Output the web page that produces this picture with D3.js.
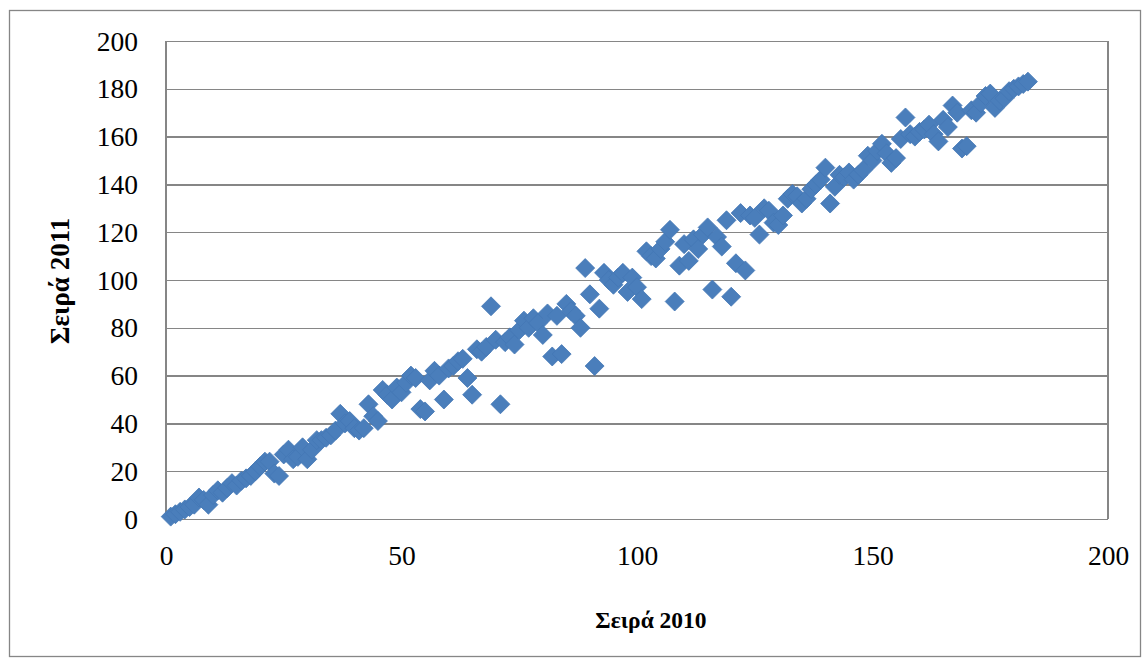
<!DOCTYPE html>
<html>
<head>
<meta charset="utf-8">
<script src="https://cdn.jsdelivr.net/npm/d3@7"></script>
<style>
  html, body { margin: 0; padding: 0; background: #ffffff; }
  svg { display: block; }
</style>
</head>
<body>
<svg id="chart" width="1148" height="659"></svg>
<script>
// Rank 2010 (x) and rank 2011 (y)
const rank2010 = [
  1,2,3,4,5,6,7,8,9,10,11,12,13,14,15,16,17,18,19,20,
  21,22,23,24,25,26,27,28,29,30,31,32,33,34,35,36,37,38,39,40,
  41,42,43,44,45,46,47,48,49,50,51,52,53,54,55,56,57,58,59,60,
  61,62,63,64,65,66,67,68,69,70,71,72,73,74,75,76,77,78,79,80,
  81,82,83,84,85,86,87,88,89,90,91,92,93,94,95,96,97,98,99,100,
  101,102,103,104,105,106,107,108,109,110,111,112,113,114,115,116,117,118,119,120,
  121,122,123,124,125,126,127,128,129,130,131,132,133,134,135,136,137,138,139,140,
  141,142,143,144,145,146,147,148,149,150,151,152,153,154,155,156,157,158,159,160,
  161,162,163,164,165,166,167,168,169,170,171,172,173,174,175,176,177,178,179,180,
  181,182,183
];
const rank2011 = [
  1,2,3,4,5,6,9,8,6,10,12,11,13,15,14,16,17,18,20,22,
  24,24,19,18,27,29,25,26,30,25,29,33,33,34,35,37,44,40,41,38,
  37,38,48,43,41,54,52,50,55,53,57,60,59,46,45,58,62,60,50,63,
  64,66,67,59,52,71,70,72,89,75,48,74,76,73,79,83,80,84,82,77,
  86,68,85,69,90,87,85,80,105,94,64,88,103,100,98,101,103,95,101,97,
  92,112,110,109,113,116,121,91,106,115,108,117,113,119,122,96,118,114,125,93,
  107,128,104,127,126,119,130,129,124,123,127,134,136,135,132,134,138,140,142,147,
  132,139,144,143,145,142,144,146,152,150,154,157,153,149,151,159,168,161,160,162,
  163,165,161,158,167,164,173,170,155,156,171,170,174,177,178,172,175,176,179,180,
  181,182,183
];
const xTicks = [0, 50, 100, 150, 200];
const yTicks = [0, 20, 40, 60, 80, 100, 120, 140, 160, 180, 200];
const xTitle = "Σειρά 2010";
const yTitle = "Σειρά 2011";

const points = rank2010.map((x, i) => ({ x: x, y: rank2011[i] }));

const svg = d3.select("#chart");
const plot = { left: 166, top: 41, right: 1108, bottom: 519 };
const gray = "#868686";
const font = "'Liberation Serif', 'Times New Roman', serif";

// outer chart frame
svg.append("rect")
  .attr("x", 9.5).attr("y", 10.5)
  .attr("width", 1131).attr("height", 646)
  .attr("fill", "#fff").attr("stroke", gray).attr("stroke-width", 1.3);

const x = d3.scaleLinear().domain([0, 200]).range([plot.left, plot.right]);
const y = d3.scaleLinear().domain([0, 200]).range([plot.bottom, plot.top]);

// gridlines
const yAxisGrid = d3.axisLeft(y).tickValues(yTicks)
  .tickSize(-(plot.right - plot.left)).tickFormat("");
const gGrid = svg.append("g").attr("transform", `translate(${plot.left},0)`).call(yAxisGrid);
gGrid.select(".domain").remove();
gGrid.selectAll("line").attr("stroke", gray).attr("stroke-width", 1.3)
  .attr("shape-rendering", "crispEdges");

// plot area verticals
[plot.left, plot.right].forEach(px => {
  svg.append("line").attr("x1", px).attr("x2", px)
    .attr("y1", plot.top).attr("y2", plot.bottom)
    .attr("stroke", gray).attr("stroke-width", 1.3).attr("shape-rendering", "crispEdges");
});

// y axis labels
const yAxis = d3.axisLeft(y).tickValues(yTicks).tickSize(0).tickPadding(28);
const gY = svg.append("g").attr("transform", `translate(${plot.left},0)`).call(yAxis);
gY.select(".domain").remove();
gY.selectAll("text").attr("font-family", font).attr("font-size", 27.5)
  .attr("fill", "#000").attr("dy", "0.33em");

// x axis labels
const xAxis = d3.axisBottom(x).tickValues(xTicks).tickSize(0).tickPadding(40);
const gX = svg.append("g").attr("transform", `translate(0,${plot.bottom})`).call(xAxis);
gX.select(".domain").remove();
gX.selectAll("text").attr("font-family", font).attr("font-size", 27.5)
  .attr("fill", "#000").attr("dy", "0.2em");

// diamonds
const r = 9.5;
const diamond = `M0,${-r}L${r},0L0,${r}L${-r},0Z`;
svg.append("g").selectAll("path").data(points).join("path")
  .attr("d", diamond)
  .attr("transform", d => `translate(${x(d.x)},${y(d.y)})`)
  .attr("fill", "#4a7ebb")
  .attr("stroke", "#4477b5").attr("stroke-width", 0.8);

// axis titles
svg.append("text").attr("x", 651).attr("y", 628)
  .attr("text-anchor", "middle").attr("font-family", font)
  .attr("font-weight", "bold").attr("font-size", 23.5).attr("fill", "#000")
  .text(xTitle);

svg.append("text")
  .attr("transform", `translate(69,281) rotate(-90)`)
  .attr("text-anchor", "middle").attr("font-family", font)
  .attr("font-weight", "bold").attr("font-size", 27).attr("fill", "#000")
  .text(yTitle);
</script>
</body>
</html>
